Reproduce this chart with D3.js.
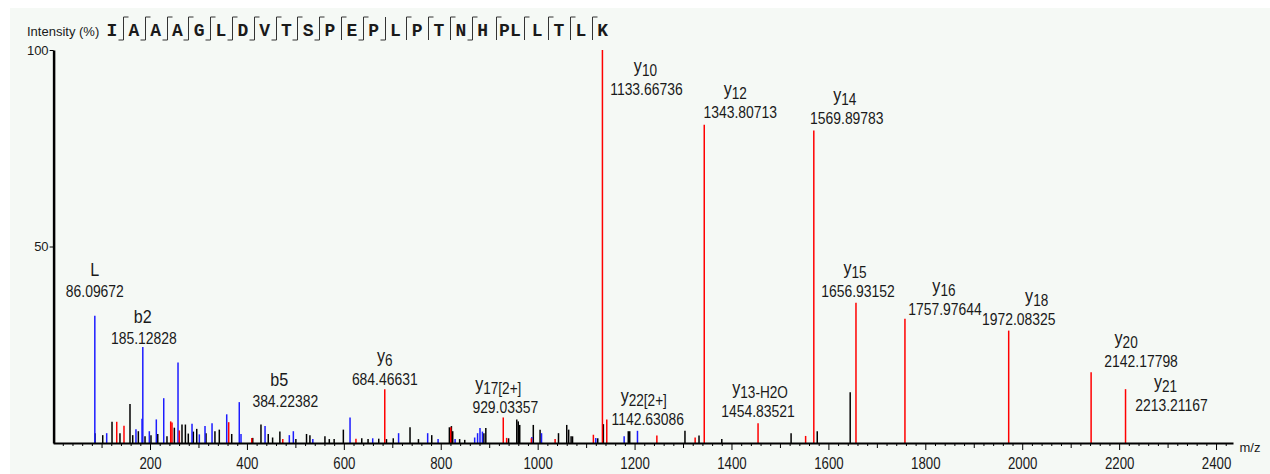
<!DOCTYPE html>
<html><head><meta charset="utf-8">
<script src="https://cdn.jsdelivr.net/npm/d3@7"></script>
<style>
html,body{margin:0;padding:0;background:#fff;}
svg{display:block;}
text{font-family:"Liberation Sans",Arial,sans-serif;fill:#1a1a1a;}
</style></head><body>
<svg id="chart" width="1270" height="474"></svg>
<script>
// ---------------- DATA ----------------
const sequence = ["I","A","A","A","G","L","D","V","T","S","P","E","P","L","P","T","N","H","PL","L","T","L","K"];
// fragment markers after each residue (b: bottom-left stub, y: top-right stub)
const bMarks = [1,1,1,1,1,1,1,1,1,1,0,1,1,0,0,0,1,0,0,0,0,0];
const yMarks = [1,1,1,1,1,1,1,1,1,1,1,1,0,1,1,1,1,1,1,1,1,1];

const ionNames = ["L","b2","b5","y6","y17[2+]","y10","y22[2+]","y12","y13-H2O","y14","y15","y16","y18","y20","y21"];
const ionMz    = [86.09672,185.12828,384.22382,684.46631,929.03357,1133.66736,1142.63086,1343.80713,1454.83521,1569.89783,1656.93152,1757.97644,1972.08325,2142.17798,2213.21167];
const ionInt   = [32.4,24.4,10.4,13.7,6.5,100,6.0,81,5.0,79.5,35.7,31.6,28.6,18,13.7];

const blueMz  = [110.6,171,183.5,198.6,213,228.3,257.8,286.7,301.8,313.5,328,358.3,387.8,437.4,487.5,495.8,536,612.8,659.6,713,773,794.5,829.6,870,876,881,886,988,1008,1120,1178.5,1206];
const blueInt = [2.5,3.5,6.2,3,6,11.4,20.5,4.9,2.2,4.3,5,7.3,2.3,4.3,2,3,1,6.5,1.2,2.5,2.5,1,1,1.4,2.5,3.8,2.9,1.5,2.5,1.3,1.7,3.1];

const redMz  = [131.3,146.3,242.7,245.4,260.5,362.4,410,474,625,820.6,936,987,1036,1115,1246,1325,1553];
const redInt = [5.4,4.4,5.5,5.2,3.2,5.3,1.3,1,1.1,4,1.3,1.2,1,2.1,1.9,1.4,1.8];

const blackMz  = [86.5,102.4,121.6,138,158.7,164.3,175.9,189.7,202,216,235,250.2,266,273,279,289.4,296.4,315.6,334,343,368.6,412,429,444,453,468,501,523,530,561,570,580,599,637,650,672,688,702,736.6,754,781.4,817.8,822,824.7,839,849.5,889,893,940,956.9,960,963,991,1005,1043,1060,1064,1069,1072,1124,1135.6,1187,1190,1304,1333,1380,1523,1577,1645];
const blackInt = [2.5,2,5.4,2.5,9.9,2,3,1.7,2,2.3,1.7,3.9,4.7,4.7,2.4,2.9,3.6,2.5,3,3.4,2.3,1.3,4.7,2.3,1.4,2.9,1,2.3,2,1.7,1,1,3.4,1.2,1,1.1,1,1.2,4,1,2,4,4.3,3,1,0.8,2.5,3.8,1.2,6,5.5,4.6,4.6,3.4,2.5,4.6,3.4,1.7,1.7,1.2,4.8,3,3,3.1,1.9,1,2.5,3,12.9];

const xTickLabels = [200,400,600,800,1000,1200,1400,1600,1800,2000,2200,2400];
const yTickLabels = [50,100];

// -------------- LAYOUT --------------
// label placement offsets: [number dx, number baseline dy from peak top, name dx]
const labelLayout = [
  [0,-19,0],[1,-3,0],[46,5,40],[0,-4,0],[2,-4,-5],[44,45,43],[41,6,37],
  [36,-7,31],[0,-6,2],[33,-7,31],[2,-6,-1],[40,-4,39],[10,-6,28],[50,-5,35],[46,22,40]
];

const svg = d3.select("#chart");
svg.append("rect").attr("x",10).attr("y",8).attr("width",1260).attr("height",466).attr("fill","#f5f9f5");

const x = d3.scaleLinear().domain([0,2435]).range([53.1,1233]);
const y = d3.scaleLinear().domain([0,100]).range([443,50]);

const colBlack="#000000", colBlue="#1c1cff", colRed="#ff0000";

// peaks
const peaks = [];
blackMz.forEach((m,i)=>peaks.push({mz:m,v:blackInt[i],c:colBlack}));
blueMz.forEach((m,i)=>peaks.push({mz:m,v:blueInt[i],c:colBlue}));
redMz.forEach((m,i)=>peaks.push({mz:m,v:redInt[i],c:colRed}));
ionNames.forEach((n,i)=>peaks.push({mz:ionMz[i],v:ionInt[i],c:n.startsWith("y")?colRed:colBlue}));

svg.append("g").selectAll("line").data(peaks).join("line")
  .attr("x1",d=>x(d.mz)).attr("x2",d=>x(d.mz))
  .attr("y1",y(0)).attr("y2",d=>y(d.v))
  .attr("stroke",d=>d.c).attr("stroke-width",1.5);

// x axis
const xAxis = d3.axisBottom(x)
  .tickValues(d3.range(20,2421,20))
  .tickSizeOuter(0)
  .tickFormat(d=> xTickLabels.includes(d) ? d : "");
const gx = svg.append("g").attr("transform",`translate(0,${y(0)})`).call(xAxis);
gx.select(".domain").attr("stroke","#000").attr("stroke-width",2);
gx.selectAll(".tick line").attr("stroke","#000").attr("stroke-width",1)
  .attr("y2",d=> d%200===0 ? 7 : (d%100===0 ? 5 : 3));
gx.selectAll(".tick text").attr("y",14).attr("dy","0.71em")
  .style("font-size","17px").attr("fill","#1a1a1a")
  .attr("transform","scale(0.78,1)");
svg.append("text").attr("x",1250).attr("y",452).attr("text-anchor","middle")
  .style("font-size","13px").text("m/z");

// y axis
const yAxis = d3.axisLeft(y).tickValues(yTickLabels).tickSize(4).tickPadding(1).tickSizeOuter(0);
const gy = svg.append("g").attr("transform",`translate(${x(0)+0.5},0)`).call(yAxis);
gy.select(".domain").attr("stroke","#000").attr("stroke-width",2.5);
gy.selectAll(".tick line").attr("stroke","#000");
gy.selectAll(".tick text").style("font-size","13px").attr("fill","#1a1a1a");

// title
svg.append("text").attr("x",27).attr("y",36).style("font-size","13px").text("Intensity (%)");

// sequence
const cells = [];
let cx = 112;
sequence.forEach((r,i)=>{
  if(i>0){ cx += 21.8 + 5.5*(sequence[i-1].length-1) + 5.5*(r.length-1); }
  cells.push(cx);
});
const gs = svg.append("g");
gs.selectAll("text").data(sequence).join("text")
  .attr("x",(d,i)=>cells[i]).attr("y",36).attr("text-anchor","middle")
  .style("font-family","'Liberation Mono','Courier New',monospace")
  .style("font-weight","bold").style("font-size","18px").attr("fill","#111")
  .text(d=>d);
const seps = d3.range(sequence.length-1).map(i=>({x:(cells[i]+cells[i+1])/2, b:bMarks[i], yv:yMarks[i]}));
const sg = gs.append("g").attr("stroke","#333").attr("stroke-width",1).attr("fill","none");
sg.selectAll("path").data(seps).join("path")
  .attr("d",d=>{
    const sx = Math.round(d.x)+0.5;
    let p = `M${sx},17V40`;
    if(d.b) p += `M${sx-5},40H${sx}`;
    if(d.yv) p += `M${sx},17H${sx+5}`;
    return p;
  });

// labels
const fmt = d3.format(".5f");
const gl = svg.append("g");
ionNames.forEach((n,i)=>{
  const px = x(ionMz[i]), py = y(ionInt[i]);
  const L = labelLayout[i];
  const nb = py + L[1];
  gl.append("g").attr("transform",`translate(${px+L[0]},${nb})`)
    .append("text").attr("text-anchor","middle").attr("transform","scale(0.87,1)")
    .style("font-size","16px").text(fmt(ionMz[i]));
  const isY = n.startsWith("y") && n.length>1;
  const g2 = gl.append("g").attr("transform",`translate(${px+L[2]},${isY? nb-23 : nb-21})`);
  const t = g2.append("text").attr("text-anchor","middle").attr("transform","scale(0.85,1)")
    .style("font-size","19px");
  if(isY){
    t.append("tspan").text("y");
    t.append("tspan").attr("dy",4).style("font-size","16px").text(n.slice(1));
  } else {
    t.text(n);
  }
});
</script>
</body></html>
